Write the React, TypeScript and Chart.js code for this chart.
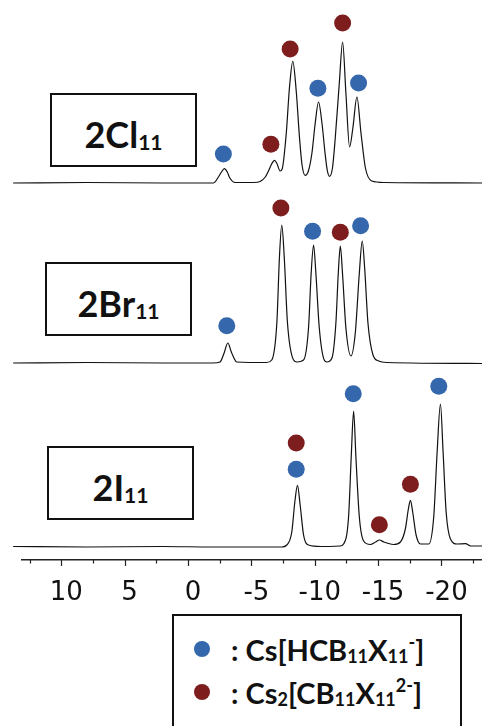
import React, { useEffect, useRef } from "react";
import { Chart, registerables } from "chart.js";

Chart.register(...registerables);

// x axis (ppm)
const tickValues = [10, 5, 0, -5, -10, -15, -20];
const minorTickValues = [12.5, 7.5, 2.5, -2.5, -7.5, -12.5, -17.5, -22.5];

// vertical offsets of the stacked spectra
const clOffset = 364;
const brOffset = 184;
const iOffset = 0;

// 2Cl11 spectrum
const clShift = [13.8, 8, 2, -2.0, -2.4, -2.64, -2.87, -3.1, -3.3, -3.72, -5.2, -5.69, -6.1, -6.35, -6.6, -6.82, -7.0, -7.27, -7.43, -7.75, -8.01, -8.27, -8.54, -8.8, -9.0, -9.24, -9.5, -9.78, -10.04, -10.3, -10.57, -10.83, -11.0, -11.17, -11.4, -11.62, -11.94, -12.2, -12.46, -12.75, -13.01, -13.33, -13.65, -14.0, -14.5, -15.5, -23.3];
const clIntensity = [0, 0.5, 0, 0, 6, 11, 14.3, 11, 5, 0.5, 0.5, 1.5, 6, 12, 19, 22.7, 20, 12, 14, 49, 96, 121.7, 92, 45, 18, 7.7, 12, 30, 60, 81, 60, 28, 12, 6.7, 15, 45, 100, 141, 90, 36, 55, 86, 50, 15, 2, 0.5, 0];

// 2Br11 spectrum
const brShift = [13.8, 8, 2, -2.0, -2.53, -2.85, -3.14, -3.45, -3.85, -6.2, -6.61, -7.01, -7.22, -7.4, -7.59, -7.85, -8.33, -8.59, -9.12, -9.51, -9.72, -9.91, -10.09, -10.36, -10.75, -10.96, -11.36, -11.67, -11.86, -12.02, -12.2, -12.46, -12.86, -13.2, -13.52, -13.75, -13.94, -14.2, -14.6, -15.05, -15.7, -23.3];
const brIntensity = [0, 0.5, 0, 0, 1, 10, 20, 10, 1, 0.5, 3, 40, 107, 138, 107, 40, 3, 1, 3, 35, 90, 118, 90, 35, 3, 1, 5, 40, 90, 117, 88, 35, 7, 30, 90, 122, 95, 40, 8, 2, 0.5, -0.5];

// 2I11 spectrum
const iShift = [13.8, 8, 2, -2, -7.4, -7.8, -8.19, -8.43, -8.64, -8.85, -9.12, -9.51, -10.5, -12.0, -12.28, -12.67, -12.88, -13.07, -13.25, -13.52, -13.86, -14.39, -14.8, -15.1, -15.45, -15.7, -16.23, -16.76, -17.15, -17.39, -17.55, -17.73, -18.0, -18.34, -19.0, -19.39, -19.66, -19.92, -20.13, -20.37, -20.71, -21.24, -21.9, -22.3, -23.3];
const iIntensity = [0.5, 0, 0.5, 0, 0, 2, 15, 45, 61.7, 42, 12, 2, 0.5, 1, 3, 30, 90, 136, 90, 30, 6, 2.5, 5, 7, 5, 4, 2.5, 5, 18, 38, 46.7, 35, 12, 3, 3, 30, 95, 143, 95, 35, 8, 3, 3.3, 1, 1];

// peak markers: Cs[HCB11X11-] (blue) and Cs2[CB11X11 2-] (red)
const clBlueShift = [-2.79, -10.25, -13.46];
const clBlueHeight = [29, 94.7, 100];
const clRedShift = [-6.54, -8.06, -12.2];
const clRedHeight = [38.7, 134, 160];
const brBlueShift = [-3.06, -9.83, -13.62];
const brBlueHeight = [37.3, 131.7, 137.3];
const brRedShift = [-7.33, -12.02];
const brRedHeight = [155, 130.7];
const iBlueShift = [-8.54, -13.04, -19.79];
const iBlueHeight = [77.7, 153.3, 160.7];
const iRedShift = [-8.54, -15.1, -17.55];
const iRedHeight = [104, 22.3, 62.7];

const BLUE = "#3467ab";
const RED = "#7d1d1e";
const INK = "#111111";

const pts = (xs: number[], ys: number[], off: number) =>
  xs.map((x, i) => ({ x, y: ys[i] + off }));

const tickMarks = {
  id: "tickMarks",
  afterDraw(chart: any) {
    const s = chart.scales.x;
    const ctx = chart.ctx;
    const y = s.top;
    ctx.save();
    ctx.strokeStyle = "#222";
    ctx.lineWidth = 1.2;
    ctx.beginPath();
    tickValues.forEach((v) => {
      const px = Math.round(s.getPixelForValue(v)) + 0.5;
      ctx.moveTo(px, y);
      ctx.lineTo(px, y + 6);
    });
    minorTickValues.forEach((v) => {
      const px = Math.round(s.getPixelForValue(v)) + 0.5;
      ctx.moveTo(px, y);
      ctx.lineTo(px, y + 3.5);
    });
    ctx.stroke();
    ctx.restore();
  },
};

const labelFont = "Lato, 'Noto Sans', sans-serif";

function Box({ left, top, main, sub }: { left: number; top: number; main: string; sub: string }) {
  return (
    <div
      style={{
        position: "absolute",
        left,
        top,
        width: 147,
        height: 74,
        boxSizing: "border-box",
        border: `2px solid ${INK}`,
        background: "#fff",
        display: "flex",
        alignItems: "center",
        justifyContent: "center",
        paddingTop: 8,
        fontFamily: labelFont,
        fontWeight: 700,
        color: INK,
        lineHeight: 1,
      }}
    >
      <span style={{ fontSize: 36 }}>
        {main}
        <span style={{ fontSize: 21, position: "relative", top: 2 }}>{sub}</span>
      </span>
    </div>
  );
}

export default function App() {
  const ref = useRef<HTMLCanvasElement | null>(null);

  useEffect(() => {
    document.body.style.margin = "0";
    const lineStyle = {
      type: "line" as const,
      borderColor: INK,
      borderWidth: 1.2,
      pointRadius: 0,
      fill: false,
      cubicInterpolationMode: "monotone" as const,
      clip: false as any,
      order: 2,
    };
    const chart = new Chart(ref.current as HTMLCanvasElement, {
      type: "line",
      data: {
        datasets: [
          {
            type: "scatter",
            data: [
              ...pts(clBlueShift, clBlueHeight, clOffset),
              ...pts(brBlueShift, brBlueHeight, brOffset),
              ...pts(iBlueShift, iBlueHeight, iOffset),
            ],
            backgroundColor: BLUE,
            borderColor: BLUE,
            pointRadius: 8.5,
            borderWidth: 0,
            order: 0,
            clip: false,
          } as any,
          {
            type: "scatter",
            data: [
              ...pts(clRedShift, clRedHeight, clOffset),
              ...pts(brRedShift, brRedHeight, brOffset),
              ...pts(iRedShift, iRedHeight, iOffset),
            ],
            backgroundColor: RED,
            borderColor: RED,
            pointRadius: 8.5,
            borderWidth: 0,
            order: 0,
            clip: false,
          } as any,
          { ...lineStyle, label: "2Cl11", data: pts(clShift, clIntensity, clOffset) },
          { ...lineStyle, label: "2Br11", data: pts(brShift, brIntensity, brOffset) },
          { ...lineStyle, label: "2I11", data: pts(iShift, iIntensity, iOffset) },
        ],
      },
      options: {
        animation: false,
        responsive: false,
        maintainAspectRatio: false,
        layout: { autoPadding: false, padding: { left: 22, right: 0, top: 0, bottom: 0 } },
        plugins: { legend: { display: false }, tooltip: { enabled: false } },
        events: [],
        scales: {
          x: {
            type: "linear",
            reverse: true,
            min: -23.2,
            max: 13.1,
            afterBuildTicks: (scale: any) => {
              scale.ticks = tickValues.map((v) => ({ value: v }));
            },
            afterFit: (scale: any) => {
              scale.height = 40;
              scale.paddingLeft = 0;
              scale.paddingRight = 0;
            },
            grid: { display: false, drawTicks: false },
            border: { display: true, color: "#222", width: 1.5 },
            ticks: {
              autoSkip: false,
              maxRotation: 0,
              padding: 17.5,
              labelOffset: 5,
              color: "#111",
              font: { family: "'DejaVu Sans', Verdana, sans-serif", size: 26 },
              callback: (v: any) => String(v),
            },
          },
          y: {
            type: "linear",
            display: false,
            min: -13,
            max: 547,
          },
        },
      },
      plugins: [tickMarks],
    });
    return () => chart.destroy();
  }, []);

  const dot = (top: number, color: string) => (
    <div
      style={{
        position: "absolute",
        left: 193.5,
        top: top - 8,
        width: 16,
        height: 16,
        borderRadius: "50%",
        background: color,
      }}
    />
  );

  const legText: React.CSSProperties = {
    position: "absolute",
    left: 57,
    fontFamily: labelFont,
    fontWeight: 700,
    fontSize: 29,
    lineHeight: "29px",
    color: INK,
    whiteSpace: "nowrap",
  };
  const subS: React.CSSProperties = { fontSize: 18, position: "relative", top: 2 };
  const supS: React.CSSProperties = { fontSize: 18, position: "relative", top: -12 };

  return (
    <div
      style={{
        position: "fixed",
        left: 0,
        top: 0,
        width: 482,
        height: 726,
        overflow: "hidden",
        background: "#fff",
      }}
    >
      <canvas
        ref={ref}
        width={482}
        height={600}
        style={{ position: "absolute", left: 0, top: 0, width: 482, height: 600 }}
      />
      <Box left={50} top={93} main="2Cl" sub="11" />
      <Box left={45} top={262} main="2Br" sub="11" />
      <Box left={47} top={446} main="2I" sub="11" />
      <div
        style={{
          position: "absolute",
          left: 172,
          top: 614,
          width: 290,
          height: 140,
          boxSizing: "border-box",
          border: `2px solid ${INK}`,
          background: "#fff",
        }}
      >
        <div style={{ ...legText, top: 19 }}>
          : Cs[HCB<span style={subS}>11</span>X<span style={subS}>11</span>
          <span style={supS}>-</span>]
        </div>
        <div style={{ ...legText, top: 62 }}>
          : Cs<span style={subS}>2</span>[CB<span style={subS}>11</span>X<span style={subS}>11</span>
          <span style={supS}>2-</span>]
        </div>
      </div>
      {dot(649, BLUE)}
      {dot(692, RED)}
    </div>
  );
}
